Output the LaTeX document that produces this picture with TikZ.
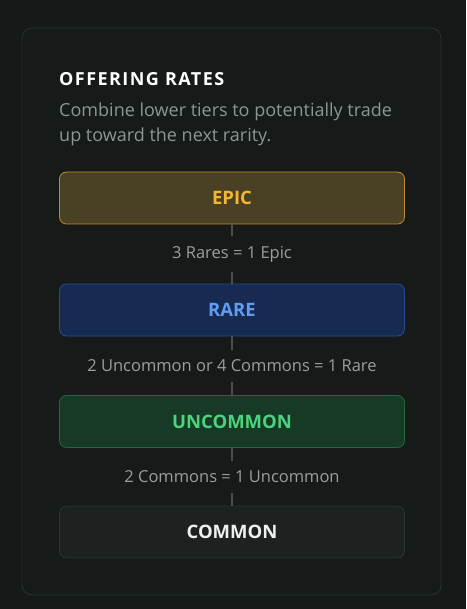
\documentclass[tikz,border=0pt]{standalone}
\usepackage{fontspec}
\setmainfont{Open Sans}
\definecolor{bg}{HTML}{151A19}
\definecolor{card}{HTML}{161B1A}
\definecolor{cardline}{HTML}{2B312F}
\definecolor{subtxt}{HTML}{8E9593}
\definecolor{lbltxt}{HTML}{9A9F9D}
\definecolor{conn}{HTML}{4A4F4E}
\definecolor{epicfill}{HTML}{4A4125}
\definecolor{epicline}{HTML}{C08A2C}
\definecolor{epictxt}{HTML}{F2B733}
\definecolor{rarefill}{HTML}{172A52}
\definecolor{rareline}{HTML}{2B4A96}
\definecolor{raretxt}{HTML}{5E9DF2}
\definecolor{uncfill}{HTML}{163A25}
\definecolor{uncline}{HTML}{21683A}
\definecolor{unctxt}{HTML}{4CD37D}
\definecolor{comfill}{HTML}{1D2221}
\definecolor{comline}{HTML}{2D3331}
\definecolor{comtxt}{HTML}{F0F0F0}
\tikzset{
  tier/.style={draw, rounded corners=7pt, line width=0.8pt, minimum width=345pt, minimum height=52pt, inner sep=0pt, font=\fontsize{18.5}{20}\selectfont\bfseries},
  rate/.style={fill=card, inner xsep=3pt, inner ysep=10pt, text=lbltxt, font=\fontsize{16.5}{18}\selectfont},
  link/.style={draw=conn, line width=2pt}
}
\begin{document}
\begin{tikzpicture}[x=1pt,y=-1pt]
\fill[bg] (0,0) rectangle (466,609);
\useasboundingbox (0,0) rectangle (466,609);
\draw[fill=card, draw=cardline, line width=0.8pt, rounded corners=10pt] (22,28) rectangle (441,595);
\node[anchor=base west, inner sep=0pt, text=white, font=\fontsize{18}{20}\selectfont\bfseries\addfontfeatures{LetterSpace=8}, align=left] (title) at (59,86) {OFFERING RATES};
\node[anchor=base west, inner sep=0pt, text=subtxt, font=\fontsize{18}{25}\selectfont, align=left] (sub) at (59,117) {Combine lower tiers to potentially trade};
\node[anchor=base west, inner sep=0pt, text=subtxt, font=\fontsize{18}{25}\selectfont, align=left] (sub2) at (59,142) {up toward the next rarity.};
\node[tier, fill=epicfill, draw=epicline, text=epictxt] (epic) at (232,198) {EPIC};
\node[tier, fill=rarefill, draw=rareline, text=raretxt] (rare) at (232,310) {RARE};
\node[tier, fill=uncfill, draw=uncline, text=unctxt] (unc) at (232,421.5) {UNCOMMON};
\node[tier, fill=comfill, draw=comline, text=comtxt] (com) at (232,532) {COMMON};
\draw[link] (epic.south) -- (rare.north) node[midway, rate] (r1) {3 Rares = 1 Epic};
\draw[link] (rare.south) -- (unc.north) node[midway, rate] (r2) {2 Uncommon or 4 Commons = 1 Rare};
\draw[link] (unc.south) -- (com.north) node[midway, rate] (r3) {2 Commons = 1 Uncommon};
\end{tikzpicture}
\end{document}
